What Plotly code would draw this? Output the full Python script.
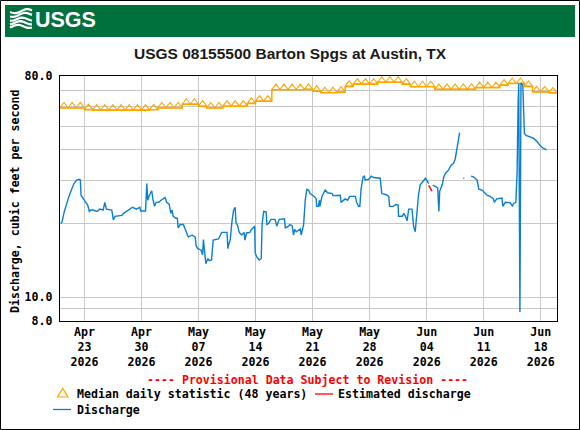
import plotly.graph_objects as go
from datetime import datetime, timedelta
import math

# ---------------- data ----------------
START = datetime(2026, 4, 20)
END_DAYS = 61

# daily median statistic (48 years), one value per day starting Apr 20
median_values = [59.2, 59.2, 59.2, 58.3, 58.0, 58.0, 58.0, 58.0, 58.0, 58.0,
                 58.0, 58.2, 59.2, 59.2, 59.2, 61.3, 61.3, 60.2, 59.2, 59.2,
                 60.2, 60.2, 60.2, 61.8, 63.1, 63.1, 70.3, 70.3, 70.3, 70.3,
                 70.5, 69.3, 68.3, 68.3, 68.7, 72.5, 74.1, 74.1, 74.1, 75.4,
                 75.4, 75.4, 74.1, 72.3, 72.3, 72.3, 70.5, 70.5, 70.5, 70.5,
                 70.5, 71.7, 71.7, 71.7, 73.4, 74.5, 74.5, 72.5, 68.9, 68.9,
                 68.2]

# discharge segments: (days since Apr 20, cfs)
q_days_a = [0.10, 0.25, 0.53, 0.82, 1.10, 1.43, 1.72, 2.05, 2.33, 2.50, 2.58, 2.87, 3.15, 3.40, 3.60,
            3.80, 4.10, 4.50, 4.90, 5.30, 5.50, 5.70, 6.35, 6.55, 6.75, 7.60, 7.80, 8.20, 8.90, 9.40,
            9.80, 9.90, 10.50, 10.65, 10.77, 10.97, 11.26, 11.40, 11.60, 11.80, 12.10, 12.40, 12.70,
            12.90, 13.10, 13.40, 13.60, 13.75, 13.90, 14.20, 14.40, 14.50, 14.75, 15.15, 15.35, 15.55,
            15.75, 16.20, 16.60, 16.70, 16.90, 17.30, 17.50, 17.60, 17.80, 17.90, 18.15, 18.30, 18.60,
            18.80, 19.45, 19.85, 20.50, 20.60, 20.70, 20.90, 21.10, 21.30, 21.50, 21.60, 21.80, 22.00,
            22.30, 22.60, 22.70, 22.90, 23.30, 23.50, 23.90, 23.95, 24.15, 24.45, 24.70, 24.80, 25.00,
            25.30, 25.40, 25.60, 25.90, 26.40, 26.60, 26.90, 27.55, 27.65, 28.05, 28.20, 28.50, 28.65,
            28.80, 29.00, 29.50, 29.60, 29.90, 30.10, 30.30, 30.50, 30.70, 31.00, 31.20, 31.45, 31.50,
            31.70, 31.85, 31.90, 32.15, 32.55, 32.85, 33.40, 33.50, 34.40, 34.50, 35.00, 35.30, 35.55,
            36.25, 36.40, 36.65, 36.80, 36.95, 37.20, 37.35, 37.45, 37.90, 38.20, 38.50, 39.30, 39.50,
            40.05, 40.35, 40.45, 40.90, 41.20, 41.50, 41.55, 42.00, 42.20, 42.40, 42.60, 42.80, 43.20,
            43.40, 43.60, 43.70, 43.90, 44.00, 44.20, 44.55, 44.85, 45.00, 45.25]
q_vals_a = [20.0, 20.3, 22.4, 24.4, 25.8, 27.6, 29.1, 30.1, 30.3, 30.1, 26.1, 25.2, 24.4, 23.8, 22.4,
            22.7, 22.7, 22.4, 22.9, 22.7, 24.4, 22.9, 22.7, 20.7, 21.4, 21.6, 22.0, 22.4, 23.3, 22.9,
            23.3, 22.5, 22.5, 29.1, 24.9, 26.1, 27.2, 25.2, 23.5, 24.4, 24.4, 24.9, 25.2,
            25.5, 24.4, 24.0, 22.0, 22.7, 21.4, 21.0, 21.0, 19.2, 19.8, 19.8, 19.0, 18.3,
            17.6, 17.95, 17.6, 16.3, 15.8, 15.6, 14.9, 17.2, 14.4, 13.7, 14.4, 14.1, 14.2,
            17.1, 17.3, 18.4, 18.4, 15.8, 16.4, 17.2, 20.3, 22.6, 23.3, 20.2, 19.6, 18.4,
            17.95, 18.4, 17.1, 18.3, 18.4, 18.9, 19.5, 15.2, 14.6, 14.2, 14.4, 19.8, 22.4,
            22.3, 19.8, 20.0, 20.8, 20.8, 19.5, 20.8, 20.9, 19.2, 19.5, 19.8, 19.6, 17.95,
            18.9, 18.5, 19.0, 17.95, 19.8, 24.9, 27.6, 27.4, 26.5, 26.2, 25.8, 25.2, 23.5,
            23.5, 24.9, 23.5, 25.8, 27.4, 26.7, 26.5, 26.0, 26.1, 24.4, 25.2, 24.9, 25.8,
            25.8, 24.4, 23.5, 23.5, 27.6, 31.0, 31.2, 30.1, 30.3, 31.2, 30.8, 30.6, 26.5,
            26.2, 25.8, 23.5, 23.5, 23.9, 23.8, 21.4, 21.4, 22.0, 21.4, 20.5, 22.9, 22.9,
            19.5, 18.5, 20.3, 22.7, 26.1, 28.7, 29.6, 30.6, 30.1, 29.1]

q_days_b = [45.75, 46.10, 46.35, 46.50, 46.60, 46.90, 47.10, 47.30, 47.70, 48.00, 48.30, 48.50,
            48.70, 48.90, 49.05]
q_vals_b = [28.7, 28.2, 28.0, 22.4, 27.1, 28.7, 31.0, 32.0, 33.1, 34.6, 35.2, 36.6, 40.0, 43.0, 47.0]

q_days_c = [49.50, 49.62]
q_vals_c = [30.6, 30.6]

q_days_d = [50.45, 50.75, 51.20, 51.40, 51.80, 52.00, 52.40, 52.80, 53.20, 53.30, 53.60, 54.25,
            54.35, 54.65, 55.25, 55.55, 55.65, 55.95, 56.10, 56.22, 56.30, 56.45, 56.58, 56.80,
            56.90, 57.00, 57.20, 57.70, 58.15, 58.60, 58.95, 59.35, 59.70]
q_vals_d = [31.2, 31.0, 30.1, 27.6, 27.4, 27.0, 26.1, 25.8, 25.2, 24.4, 25.2, 25.4,
            23.5, 24.4, 24.3, 23.5, 24.1, 24.4, 32.0, 60.0, 74.5, 8.7, 75.0, 73.5,
            60.0, 46.6, 45.8, 45.2, 44.5, 43.0, 41.5, 40.5, 40.0]

est_days = [45.25, 45.45, 45.65]
est_vals = [28.6, 27.6, 27.1]

tick_dates = ["2026-04-23", "2026-04-30", "2026-05-07", "2026-05-14", "2026-05-21",
              "2026-05-28", "2026-06-04", "2026-06-11", "2026-06-18"]
tick_text = ["Apr<br>23<br>2026", "Apr<br>30<br>2026", "May<br>07<br>2026", "May<br>14<br>2026",
             "May<br>21<br>2026", "May<br>28<br>2026", "Jun<br>04<br>2026", "Jun<br>11<br>2026",
             "Jun<br>18<br>2026"]
y_tick_vals = [8, 9, 10, 20, 30, 40, 50, 60, 70, 80]
y_tick_text = ["8.0", "", "10.0", "", "", "", "", "", "", "80.0"]

# ---------------- helpers ----------------
W, H = 580, 430
L, R, T, B = 60, 23, 76, 109
PW, PH = W - L - R, H - T - B


def px(x):
    return (x - L) / PW


def py(y):
    return (H - B - y) / PH


def to_dt(d):
    return START + timedelta(days=d)


MONO = "DejaVu Sans Mono"
SANS = "Liberation Sans, Arial, sans-serif"
ORANGE = "#ffa500"
BLUE = "#0a7fd0"

# discharge with gaps
q_x, q_y = [], []
for ds, vs in [(q_days_a, q_vals_a), (q_days_b, q_vals_b), (q_days_c, q_vals_c), (q_days_d, q_vals_d)]:
    q_x += [to_dt(d) for d in ds] + [None]
    q_y += list(vs) + [None]

fig = go.Figure()

# median step line
med_x = [to_dt(i) for i in range(len(median_values) + 1)]
med_y = list(median_values) + [median_values[-1]]
fig.add_trace(go.Scatter(x=med_x, y=med_y, mode="lines", line=dict(color=ORANGE, width=1.5, shape="hv"),
                         showlegend=False, hoverinfo="skip"))
# median triangles (base sitting on the line)
TRI = 7
lift = 10 ** ((TRI / 4 + 0.3) / PH)
fig.add_trace(go.Scatter(x=[to_dt(i + 0.5) for i in range(len(median_values))],
                         y=[v * lift for v in median_values], mode="markers",
                         marker=dict(symbol="triangle-up-open", size=TRI, color=ORANGE, line=dict(width=1.1)),
                         showlegend=False, hoverinfo="skip"))

fig.add_trace(go.Scatter(x=q_x, y=q_y, mode="lines", line=dict(color=BLUE, width=1.4),
                         connectgaps=False, showlegend=False))
fig.add_trace(go.Scatter(x=[to_dt(d) for d in est_days], y=est_vals, mode="lines",
                         line=dict(color="#ff0000", width=1.4), showlegend=False))

fig.update_xaxes(type="date", range=[to_dt(0), to_dt(END_DAYS)], tickvals=tick_dates, ticktext=tick_text,
                 showgrid=True, gridcolor="#c8c8c8", gridwidth=1, showline=True, mirror=True,
                 linecolor="black", linewidth=1.3, ticks="", zeroline=False,
                 tickfont=dict(family=MONO, size=11.6, color="black", weight="bold"))
fig.update_yaxes(type="log", range=[math.log10(8), math.log10(80)], tickvals=y_tick_vals,
                 ticktext=y_tick_text, showgrid=True, gridcolor="#c8c8c8", gridwidth=1, showline=True,
                 mirror=True, linecolor="black", linewidth=1.3, ticks="", zeroline=False,
                 ticklabelstandoff=4,
                 tickfont=dict(family=MONO, size=11.6, color="black", weight="bold"))

shapes = []
# outer border
shapes.append(dict(type="rect", xref="paper", yref="paper", x0=px(0.5), x1=px(579.5), y0=py(429.5), y1=py(0.5),
                   line=dict(color="black", width=1), layer="above"))
# green banner
shapes.append(dict(type="rect", xref="paper", yref="paper", x0=px(5), x1=px(575), y0=py(37), y1=py(5),
                   fillcolor="#00703c", line=dict(width=0)))


def path_px(points):
    return "M " + " L ".join(f"{px(x):.5f},{py(y):.5f}" for x, y in points)


# logo waves
for k in range(5):
    y0 = 12 + k * 3.6
    pts = []
    for i in range(12):
        x = 10 + i * 2
        yy = y0 + 1.6 * math.sin((x - 10) / 22 * 2 * math.pi + k * 0.6) - (i * 0.15 if k < 2 else 0)
        pts.append((x, yy))
    shapes.append(dict(type="path", xref="paper", yref="paper", path=path_px(pts),
                       line=dict(color="white", width=2.2)))

# legend symbols
shapes.append(dict(type="path", xref="paper", yref="paper",
                   path=path_px([(57.5, 397), (68, 397), (62.75, 388.5)]) + " Z",
                   line=dict(color=ORANGE, width=1.2)))
shapes.append(dict(type="line", xref="paper", yref="paper", x0=px(315), x1=px(333), y0=py(394), y1=py(394),
                   line=dict(color="#ff0000", width=1.3)))
shapes.append(dict(type="line", xref="paper", yref="paper", x0=px(53), x1=px(71), y0=py(409.5), y1=py(409.5),
                   line=dict(color=BLUE, width=1.3)))

mono = dict(family=MONO, size=11.6, color="black", weight="bold")
annotations = [
    dict(text="USGS", x=px(33), y=py(20.5), xref="paper", yref="paper", xanchor="left", yanchor="middle",
         showarrow=False, font=dict(family=SANS, size=21.5, color="white", weight="bold")),
    dict(text="USGS 08155500 Barton Spgs at Austin, TX", x=px(290), y=py(53.5), xref="paper", yref="paper",
         xanchor="center", yanchor="middle", showarrow=False,
         font=dict(family=SANS, size=15.5, color="#1a1a1a", weight="bold")),
    dict(text="Discharge, cubic feet per second", x=px(15), y=py(202), xref="paper", yref="paper",
         xanchor="center", yanchor="middle", textangle=-90, showarrow=False, font=mono),
    dict(text="---- Provisional Data Subject to Revision ----", x=px(307), y=py(380), xref="paper",
         yref="paper", xanchor="center", yanchor="middle", showarrow=False,
         font=dict(family=MONO, size=11.6, color="#ff0000", weight="bold")),
    dict(text="Median daily statistic (48 years)", x=px(75), y=py(394), xref="paper", yref="paper",
         xanchor="left", yanchor="middle", showarrow=False, font=mono),
    dict(text="Estimated discharge", x=px(336), y=py(394), xref="paper", yref="paper",
         xanchor="left", yanchor="middle", showarrow=False, font=mono),
    dict(text="Discharge", x=px(75), y=py(409.5), xref="paper", yref="paper",
         xanchor="left", yanchor="middle", showarrow=False, font=mono),
]

fig.update_layout(width=W, height=H, margin=dict(l=L, r=R, t=T, b=B, pad=0), paper_bgcolor="white",
                  plot_bgcolor="white", showlegend=False, shapes=shapes, annotations=annotations,
                  hovermode=False)

fig.write_html("out.html", config={"displayModeBar": False},
               post_script="document.body.style.margin='0px';")
